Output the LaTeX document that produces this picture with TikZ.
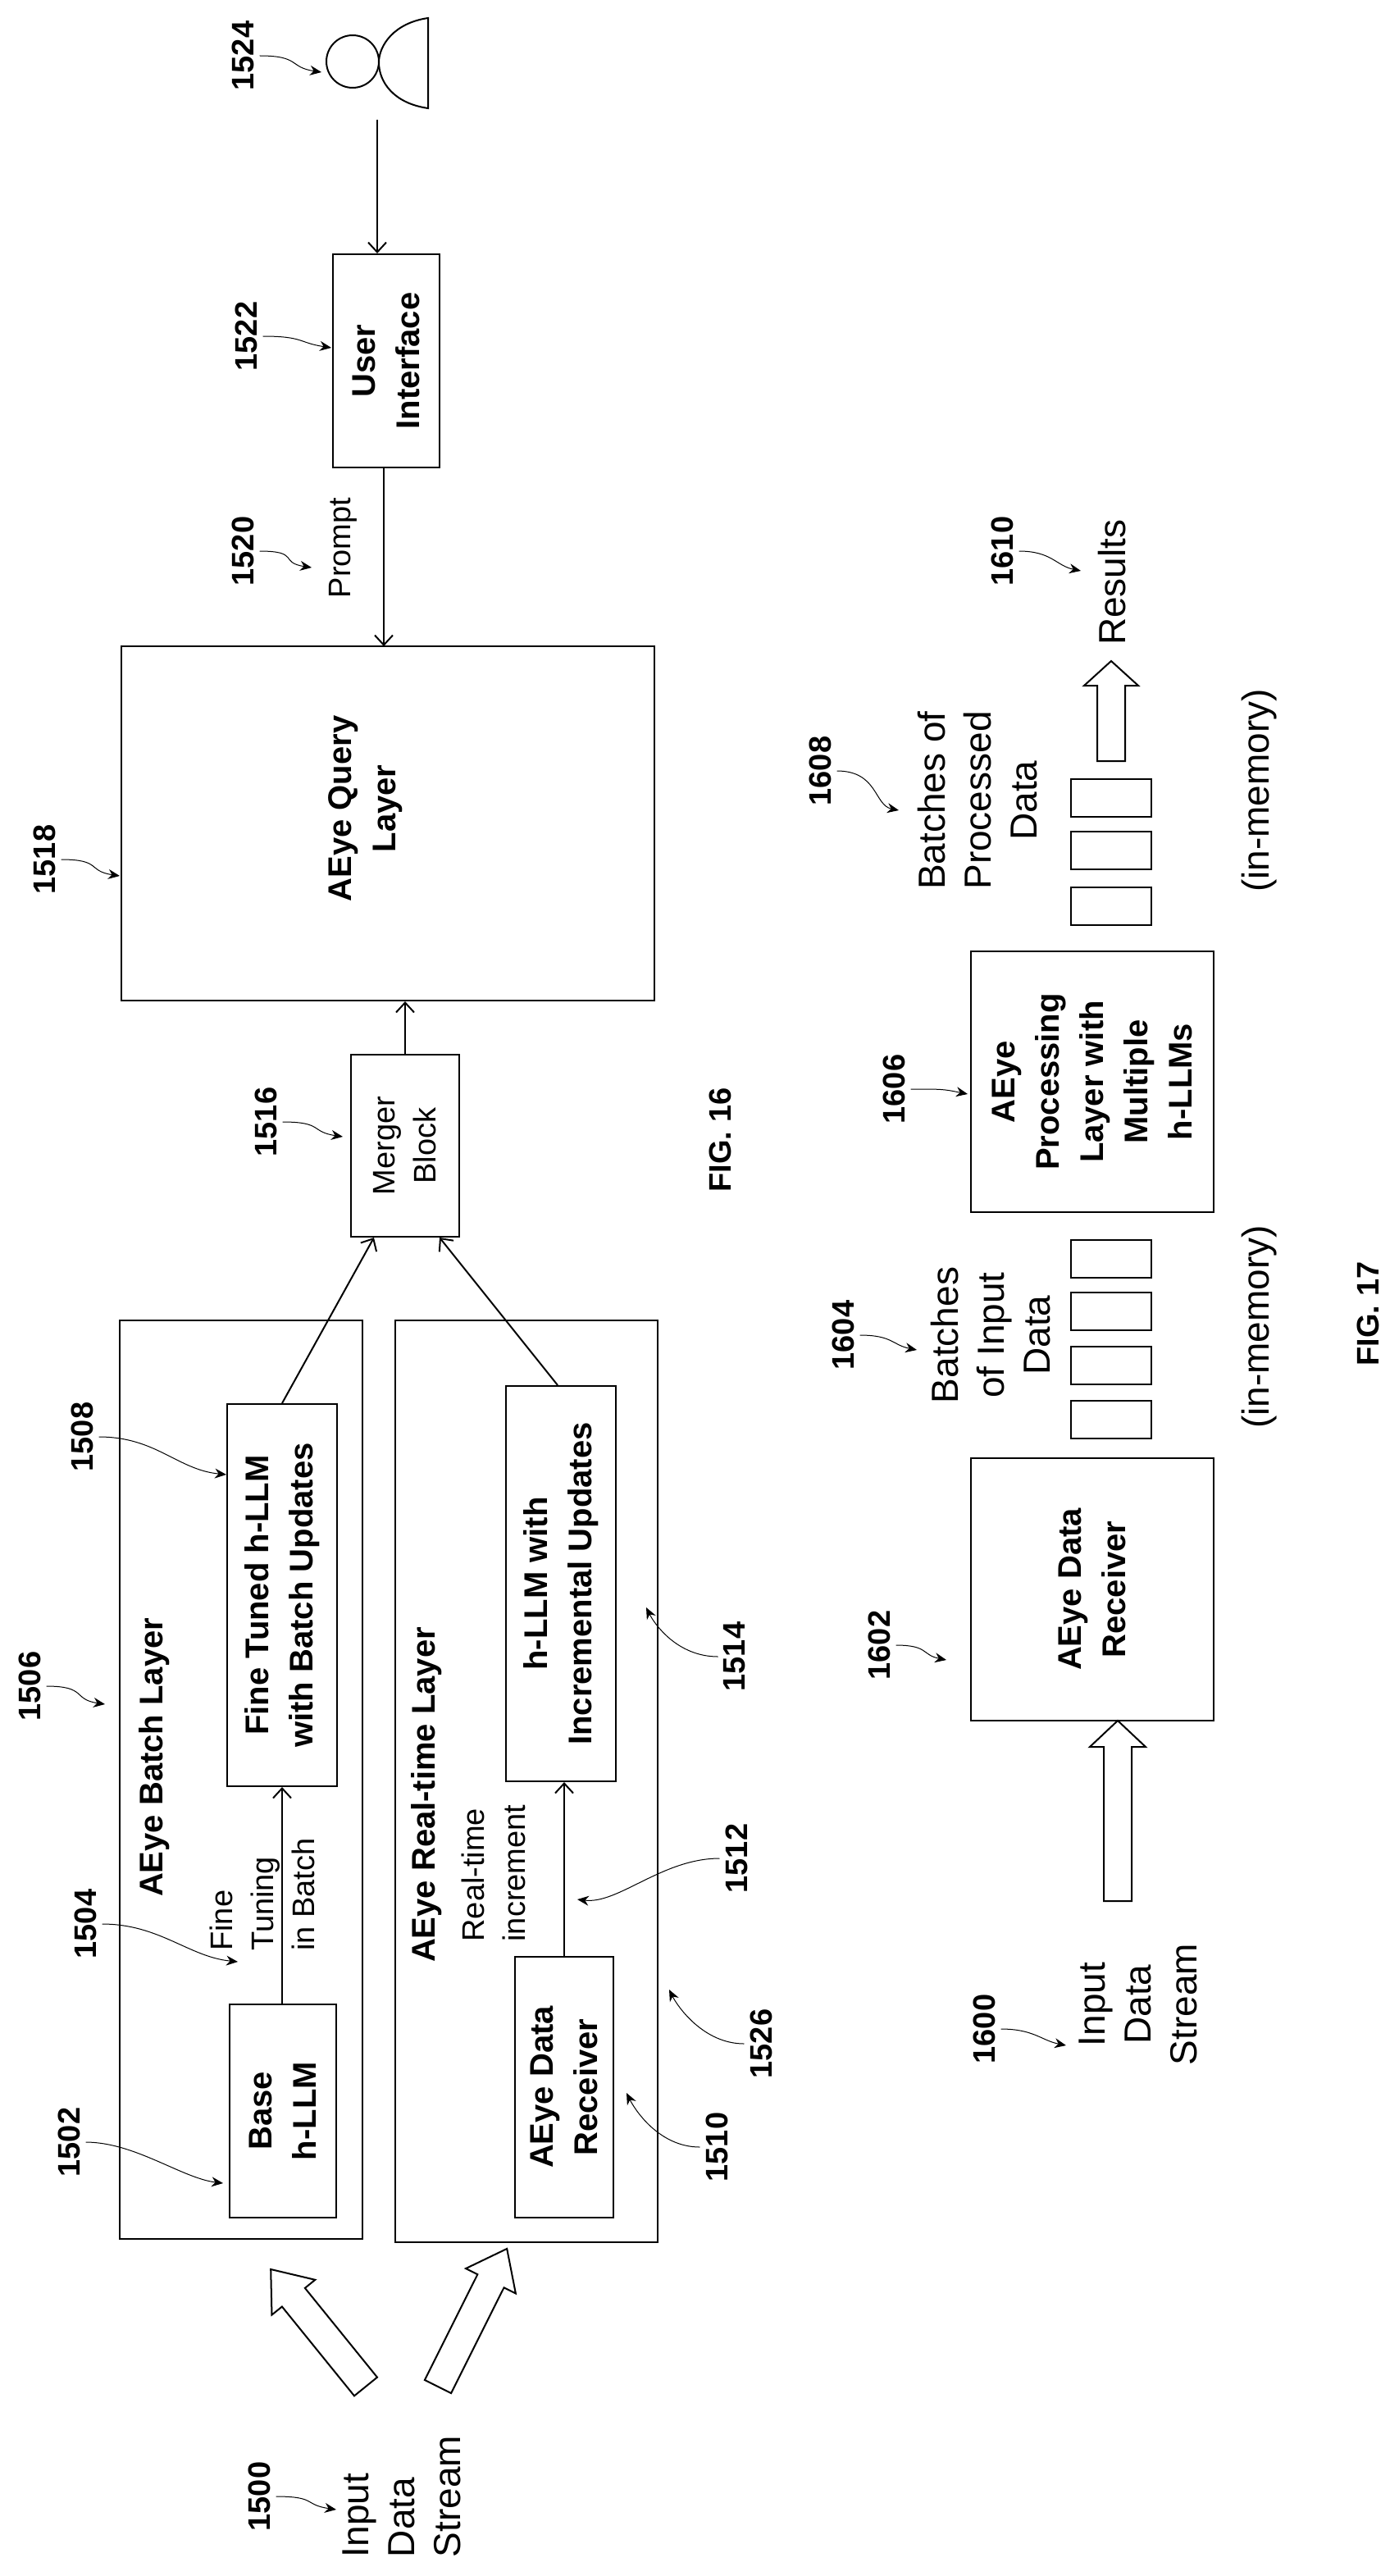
\documentclass[tikz,border=0pt]{standalone}
\usepackage{fontspec}
\setmainfont{Liberation Sans}
\usetikzlibrary{arrows.meta,calc}
\begin{document}
\begin{tikzpicture}[x=1pt,y=-1pt,
  box/.style={draw,line width=1pt,inner sep=0pt},
  bt/.style={rotate=90,font=\fontsize{20}{27}\selectfont\bfseries,align=center},
  pt/.style={rotate=90,font=\fontsize{19}{25}\selectfont,align=center},
  big/.style={rotate=90,font=\fontsize{23}{28}\selectfont,align=left},
  lab/.style={rotate=90,font=\fontsize{19}{22}\selectfont\bfseries},
  con/.style={line width=1pt,-{Straight Barb[length=6pt,width=11pt]}},
  lead/.style={line width=0.5pt,-{Stealth[length=7pt,width=6pt]}},
  pics/harrow/.style args={#1/#2/#3/#4}{code={\draw[line width=1pt,fill=white] (0,-#2)--(#1-#4,-#2)--(#1-#4,-#3)--(#1,0)--(#1-#4,#3)--(#1-#4,#2)--(0,#2)--cycle;}}]
\useasboundingbox (0,0) rectangle (852.5,1570.5);
% FIG 16 boxes
\draw[box] (73,805) rectangle (221,1365);
\node[bt,anchor=west] (batchlab) at (94,1160) {AEye Batch Layer};
\draw[box] (241,805) rectangle (401,1367);
\node[bt,anchor=west] (rtlab) at (260,1200) {AEye Real-time Layer};
\node[box,minimum width=65pt,minimum height=130pt] (base) at (172.5,1287) {};
\node[bt] at (base) {Base\\h-LLM};
\node[box,minimum width=67pt,minimum height=233pt] (fine) at (172,972.5) {};
\node[bt] at (fine) {Fine Tuned h-LLM\\with Batch Updates};
\node[box,minimum width=60pt,minimum height=159pt] (recv) at (344,1272.5) {};
\node[bt] at (recv) {AEye Data\\Receiver};
\node[box,minimum width=67pt,minimum height=241pt] (incr) at (342,965.5) {};
\node[bt] at (incr) {h-LLM with\\Incremental Updates};
\node[box,minimum width=66pt,minimum height=111pt] (merge) at (247,698.5) {};
\node[pt] at (merge) {Merger\\Block};
\node[box,minimum width=325pt,minimum height=216pt] (query) at (236.5,502) {};
\node[bt] at (223,493) {AEye Query\\Layer};
\node[box,minimum width=65pt,minimum height=130pt] (ui) at (235.5,220) {};
\node[bt] at (ui) {User\\Interface};
% person
\draw[line width=1pt] (215,37.5) circle (16);
\coordinate (person) at (230,73);
\draw[line width=1pt] (261,11) .. controls (240,14) and (231,28) .. (231,38) .. controls (231,50) and (240,63) .. (261,66) -- cycle;
% connectors
\draw[con] (base.north -| fine.south) -- (fine.south);
\draw[con] (recv.north) -- (recv.north |- incr.south);
\draw[con] (fine.north) -- ($(merge.south)+(-19,0)$);
\draw[con] ($(incr.north)+(-2,0)$) -- ($(merge.south)+(21,0)$);
\draw[con] (merge.north) -- (merge.north |- query.south);
\draw[con] (ui.south -| 234,0) -- (234,394);
\draw[con] (person) -- (person |- ui.north);
\node[pt,align=left] (ftb) at (160,1155) {Fine\\Tuning\\in Batch};
\node[pt,align=left] (rti) at (301,1142) {Real-time\\increment};
\node[pt] (prompt) at (209,334) {Prompt};
% hollow input arrows
\pic[rotate=129] (hb) at (223,1455) {harrow=92/9/17/22};
\pic[rotate=63.4] (hr) at (267,1455) {harrow=94/9/17/22};
\node[big] (ids) at (245,1522) {Input\\Data\\Stream};
% labels
\node[lab] (l1500) at (158,1522) {1500};
\node[lab] (l1502) at (42,1306) {1502};
\node[lab] (l1504) at (52,1173) {1504};
\node[lab] (l1506) at (18,1028) {1506};
\node[lab] (l1508) at (50,876) {1508};
\node[lab] (l1510) at (437,1309) {1510};
\node[lab] (l1512) at (449,1133) {1512};
\node[lab] (l1514) at (448,1010) {1514};
\node[lab] (l1526) at (464,1246) {1526};
\node[lab] (l1516) at (162,684) {1516};
\node[lab] (l1518) at (27,524) {1518};
\node[lab] (l1520) at (148,336) {1520};
\node[lab] (l1522) at (150,205) {1522};
\node[lab] (l1524) at (148,34) {1524};
\node[lab] (fig16) at (439,695) {FIG. 16};
\draw[lead] (l1502.south) .. controls +(30,0) and +(-25,-3) .. (136,1331);
\draw[lead] (l1504.south) .. controls +(35,0) and +(-30,-3) .. (145,1196);
\draw[lead] (l1506.south) .. controls +(25,0) and +(-20,-3) .. (64,1039);
\draw[lead] (l1508.south) .. controls +(35,0) and +(-30,-3) .. (138,899);
\draw[lead] (l1500.south) .. controls +(25,0) and +(-20,-3) .. (205,1530);
\draw[lead] (l1510.north) .. controls +(-25,0) and +(5,10) .. (382,1276);
\draw[lead] (l1526.north) .. controls +(-25,0) and +(5,10) .. (408,1213);
\draw[lead] (l1512.north) .. controls +(-35,0) and +(25,3) .. (352,1158);
\draw[lead] (l1514.north) .. controls +(-25,0) and +(5,10) .. (394,980);
\draw[lead] (l1516.south) .. controls +(25,0) and +(-20,-3) .. (209,693);
\draw[lead] (l1518.south) .. controls +(25,0) and +(-20,-3) .. (73,534);
\draw[lead] (l1520.south) .. controls +(25,0) and +(-20,-3) .. (190,346);
\draw[lead] (l1522.south) .. controls +(25,0) and +(-20,-3) .. (202,212);
\draw[lead] (l1524.south) .. controls +(25,0) and +(-20,-3) .. (196,44);
% FIG 17
\node[box,minimum width=148pt,minimum height=160pt] (recv2) at (666,969) {};
\node[bt] at (recv2) {AEye Data\\Receiver};
\node[box,minimum width=148pt,minimum height=159pt] (proc) at (666,659.5) {};
\node[bt] at (proc) {AEye\\Processing\\Layer with\\Multiple\\h-LLMs};
\foreach \y in {756,788,821,854}{\draw[line width=1pt] (653,\y) rectangle (702,\y+23);}
\foreach \y in {475,507,541}{\draw[line width=1pt] (653,\y) rectangle (702,\y+23);}
\pic[rotate=90] (inar) at (681.5,1159) {harrow=110/8.5/17/16};
\pic[rotate=90] (resar) at (677.5,464) {harrow=61/8.5/16.5/15};
\node[big,align=center] (ids2) at (694,1222) {Input\\Data\\Stream};
\node[big,align=center] (bid) at (604,814) {Batches\\of Input\\Data};
\node[big,align=center] (bpd) at (596,488) {Batches of\\Processed\\Data};
\node[big,anchor=west] (res) at (678,397) {Results};
\node[big] (mem1) at (768,809) {(in-memory)};
\node[big] (mem2) at (768,482) {(in-memory)};
\node[lab] (l1600) at (600,1237) {1600};
\node[lab] (l1602) at (536,1003) {1602};
\node[lab] (l1604) at (514,814) {1604};
\node[lab] (l1606) at (545,664) {1606};
\node[lab] (l1608) at (500,470) {1608};
\node[lab] (l1610) at (611,336) {1610};
\node[lab] (fig17) at (834,801) {FIG. 17};
\draw[lead] (l1600.south) .. controls +(20,0) and +(-15,-3) .. (650,1247);
\draw[lead] (l1602.south) .. controls +(20,0) and +(-15,-3) .. (577,1012);
\draw[lead] (l1604.south) .. controls +(20,0) and +(-15,-3) .. (559,823);
\draw[lead] (l1606.south) .. controls +(20,0) and +(-15,-3) .. (590,667);
\draw[lead] (l1608.south) .. controls +(25,0) and +(-15,-3) .. (548,494);
\draw[lead] (l1610.south) .. controls +(20,0) and +(-15,-3) .. (659,348);
\end{tikzpicture}
\end{document}
